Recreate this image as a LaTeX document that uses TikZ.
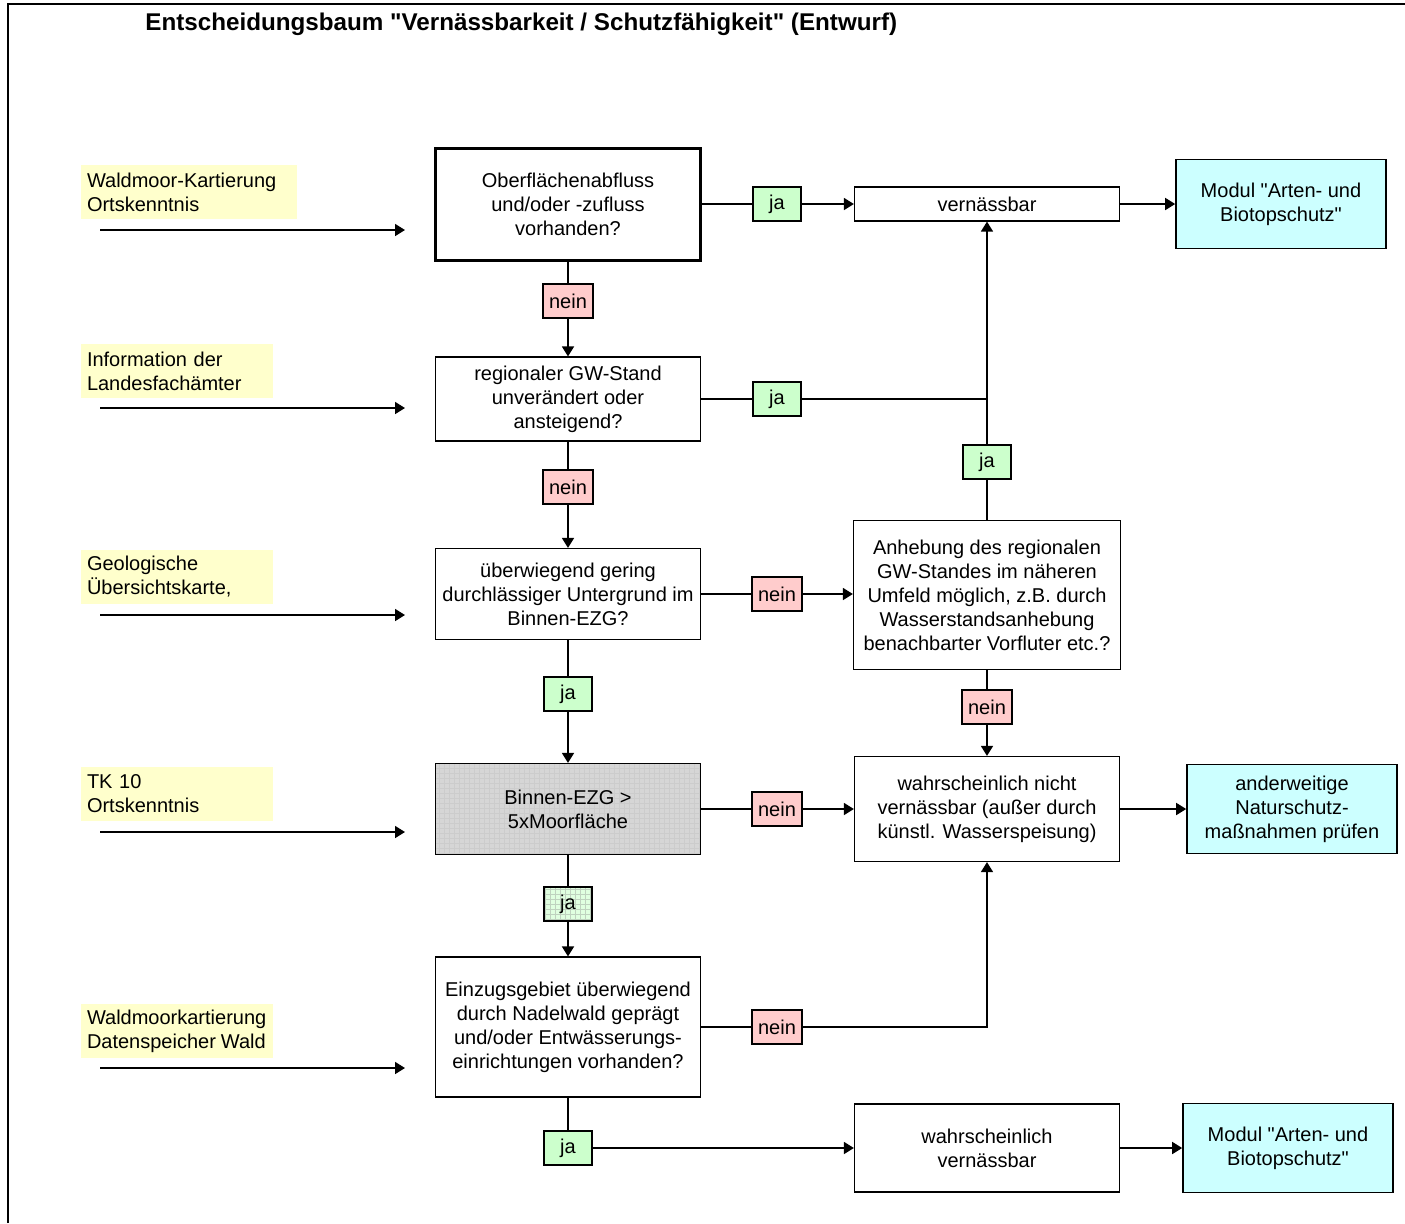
\documentclass[tikz,border=0pt]{standalone}
\usepackage{fontspec}
\setmainfont{Liberation Sans}[Ligatures=TeXOff]
\usetikzlibrary{arrows.meta,positioning,calc}
\definecolor{modcyan}{RGB}{204,255,255}
\definecolor{srcyellow}{RGB}{255,255,204}
\definecolor{jagreen}{RGB}{204,255,204}
\definecolor{neinred}{RGB}{255,204,204}

\begin{document}
\begin{tikzpicture}[
    x=0.5pt, y=-0.5pt,
    font=\fontsize{10}{12}\selectfont,
    qbox/.style={rectangle, draw=black, fill=white, line width=0.6pt, align=center, minimum width=132.5pt, inner sep=2pt},
    startbox/.style={qbox, line width=1.5pt},
    gridbox/.style={qbox, fill=black!16, path picture={\draw[white!80!black, line width=0.2pt] (path picture bounding box.south west) grid[step=2.5pt] (path picture bounding box.north east);}},
    modbox/.style={rectangle, draw=black, fill=modcyan, line width=0.8pt, align=center, minimum width=105pt, minimum height=44.5pt},
    srcbox/.style={rectangle, fill=srcyellow, align=left, inner xsep=3pt, inner ysep=1pt, minimum height=27pt},
    jabox/.style={rectangle, draw=black, fill=jagreen, line width=0.6pt, minimum width=24pt, minimum height=17pt, inner sep=1pt},
    jagrid/.style={jabox, fill=jagreen!60, path picture={\draw[green!30!black!25, line width=0.2pt] (path picture bounding box.south west) grid[step=2.5pt] (path picture bounding box.north east);}},
    neinbox/.style={jabox, fill=neinred, minimum width=25pt},
    arrow/.style={-{Triangle[length=5pt,width=6pt]}, line width=0.8pt},
    link/.style={line width=0.8pt}
]
    \useasboundingbox (0,0) rectangle (1405,1223);
    \draw [line width=1.2pt] (8,1223) -- (8,4) -- (1405,4);

    \node [anchor=west, inner sep=0pt, font=\fontsize{12.1}{14}\selectfont\bfseries] (title) at (145,24) {Entscheidungsbaum "Vernässbarkeit / Schutzfähigkeit" (Entwurf)};

    % question column
    \node [startbox, minimum height=56pt] (b1) at (568,204) {Oberflächenabfluss\\und/oder -zufluss\\vorhanden?};
    \node [qbox, minimum height=42pt] (b2) at (568,399) {regionaler GW-Stand\\unverändert oder\\ansteigend?};
    \node [qbox, minimum height=45.5pt] (b3) at (568,594) {überwiegend gering\\durchlässiger Untergrund im\\Binnen-EZG?};
    \node [gridbox, minimum height=45.5pt] (b4) at (568,809) {Binnen-EZG >\\5xMoorfläche};
    \node [qbox, minimum height=70pt] (b5) at (568,1027) {Einzugsgebiet überwiegend\\durch Nadelwald geprägt\\und/oder Entwässerungs-\\einrichtungen vorhanden?};

    % result column
    \node [qbox, minimum height=17pt] (ver) at (987,204) {vernässbar};
    \node [qbox, minimum width=133.5pt, minimum height=74.5pt] (anh) at (987,595) {Anhebung des regionalen\\GW-Standes im näheren\\Umfeld möglich, z.B. durch\\Wasserstandsanhebung\\benachbarter Vorfluter etc.?};
    \node [qbox, minimum height=52.5pt] (nver) at (987,809) {wahrscheinlich nicht\\vernässbar (außer durch\\künstl. Wasserspeisung)};
    \node [qbox, minimum height=44pt] (wver) at (987,1148) {wahrscheinlich\\vernässbar};

    % modules
    \node [modbox] (mod1) at (1281,204) {Modul "Arten- und\\Biotopschutz"};
    \node [modbox] (andw) at (1292,809) {anderweitige\\Naturschutz-\\maßnahmen prüfen};
    \node [modbox] (mod2) at (1288,1148) {Modul "Arten- und\\Biotopschutz"};

    % sources
    \node [srcbox, text width=102pt] (s1) at (189,192) {Waldmoor-Kartierung\\Ortskenntnis};
    \node [srcbox, text width=90pt] (s2) at (177,371) {Information der\\Landesfachämter};
    \node [srcbox, text width=90pt] (s3) at (177,577) {Geologische\\Übersichtskarte,};
    \node [srcbox, text width=90pt] (s4) at (177,794) {TK 10\\Ortskenntnis};
    \node [srcbox, text width=90pt] (s5) at (177,1031) {Waldmoorkartierung\\Datenspeicher\hspace{0.25em}Wald};
    \foreach \i/\yy in {1/230, 2/408, 3/615, 4/832, 5/1068} {
        \coordinate (s\i a) at (100,\yy);
        \coordinate (s\i b) at (405,\yy);
        \draw [arrow] (s\i a) -- (s\i b);
    }

    % decision labels
    \node [jabox] (j1) at (777,204) {ja};
    \node [neinbox] (n1) at (568,301) {nein};
    \node [jabox] (j2) at (777,399) {ja};
    \node [jabox] (j3) at (987,462) {ja};
    \node [neinbox] (n2) at (568,487) {nein};
    \node [neinbox] (n3) at (777,594) {nein};
    \node [jabox] (j4) at (568,694) {ja};
    \node [neinbox] (n4) at (987,707) {nein};
    \node [neinbox] (n5) at (777,809) {nein};
    \node [jagrid] (j5) at (568,904) {ja};
    \node [neinbox] (n6) at (777,1027) {nein};
    \node [jabox] (j6) at (568,1148) {ja};

    % connectors
    \draw [link] (b1) -- (j1);
    \draw [arrow] (j1) -- (ver);
    \draw [arrow] (ver) -- (mod1);
    \draw [link] (b1) -- (n1);
    \draw [arrow] (n1) -- (b2);
    \draw [link] (b2) -- (j2) -- (j2 -| ver);
    \draw [link] (anh) -- (j3);
    \draw [arrow] (j3) -- (ver);
    \draw [link] (b2) -- (n2);
    \draw [arrow] (n2) -- (b3);
    \draw [link] (b3) -- (n3);
    \draw [arrow] (n3) -- (n3 -| anh.west);
    \draw [link] (anh) -- (n4);
    \draw [arrow] (n4) -- (nver);
    \draw [link] (b3) -- (j4);
    \draw [arrow] (j4) -- (b4);
    \draw [link] (b4) -- (n5);
    \draw [arrow] (n5) -- (nver);
    \draw [arrow] (nver) -- (andw.west |- nver);
    \draw [link] (b4) -- (j5);
    \draw [arrow] (j5) -- (b5);
    \draw [link] (b5) -- (n6);
    \draw [arrow] (n6) -| (nver);
    \draw [link] (b5) -- (j6);
    \draw [arrow] (j6) -- (wver);
    \draw [arrow] (wver) -- (mod2);
\end{tikzpicture}
\end{document}
